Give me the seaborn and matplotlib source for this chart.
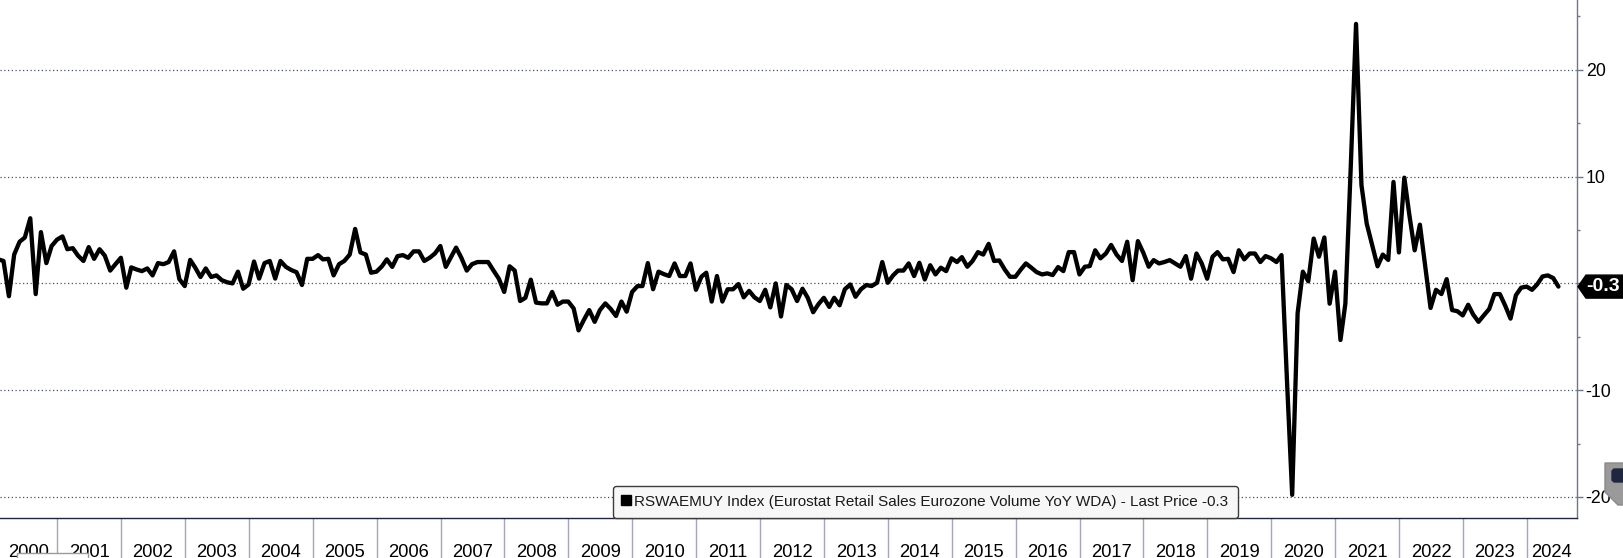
import numpy as np
import pandas as pd
import matplotlib
matplotlib.use("Agg")
import matplotlib.pyplot as plt
import matplotlib.dates as mdates
import matplotlib.transforms as mtrans
from matplotlib.patches import FancyBboxPatch, Polygon, Rectangle
from matplotlib.lines import Line2D
from matplotlib.ticker import FixedLocator, MultipleLocator, FuncFormatter
import seaborn as sns

# ---------------- data (monthly YoY %, Jan 2000 .. Jun 2024) ----------------
first_month = "2000-01-01"
yoy_2000_2004 = [2.25, 2.1, -1.2, 2.7, 3.9, 4.3, 6.1, -1.0, 4.8, 1.9, 3.5, 4.1,
                 4.4, 3.2, 3.3, 2.6, 2.1, 3.4, 2.3, 3.2, 2.6, 1.2, 1.8, 2.4,
                 -0.4, 1.5, 1.3, 1.15, 1.4, 0.75, 1.9, 1.8, 2.0, 3.0, 0.4, -0.25,
                 2.2, 1.5, 0.6, 1.4, 0.6, 0.75, 0.3, 0.1, 0.0, 1.1, -0.5, -0.1,
                 2.05, 0.45, 1.9, 2.1, 0.45, 2.1, 1.55, 1.25, 1.05, -0.15, 2.3, 2.3]
yoy_2005_2009 = [2.65, 2.25, 2.3, 0.75, 1.8, 2.1, 2.7, 5.1, 2.9, 2.7, 1.0, 1.1,
                 1.6, 2.25, 1.55, 2.55, 2.65, 2.4, 3.0, 3.0, 2.1, 2.4, 2.8, 3.5,
                 1.55, 2.4, 3.35, 2.4, 1.2, 1.8, 2.0, 2.0, 2.0, 1.2, 0.45, -0.8,
                 1.6, 1.2, -1.65, -1.35, 0.35, -1.8, -1.87, -1.87, -0.8, -2.0, -1.7, -1.7,
                 -2.35, -4.4, -3.4, -2.5, -3.6, -2.5, -1.87, -2.4, -3.05, -1.7, -2.65, -0.8]
yoy_2010_2014 = [-0.25, -0.25, 1.9, -0.55, 1.1, 0.87, 0.69, 1.87, 0.69, 0.69, 1.87, -0.6,
                 0.62, 1.0, -1.7, 0.69, -1.7, -0.55, -0.55, -0.06, -1.3, -0.7, -1.3, -1.65,
                 -0.6, -2.25, 0.0, -3.1, -0.15, -0.55, -1.65, -0.5, -1.35, -2.7, -1.95, -1.35,
                 -2.2, -1.35, -2.05, -0.55, -0.1, -1.25, -0.55, -0.15, -0.25, 0.06, 2.0, 0.06,
                 0.75, 1.2, 1.2, 1.87, 0.69, 1.93, 0.37, 1.7, 0.84, 1.47, 1.15, 2.35]
yoy_2015_2019 = [2.0, 2.46, 1.56, 2.1, 2.93, 2.7, 3.7, 2.1, 2.15, 1.3, 0.62, 0.62,
                 1.3, 1.87, 1.47, 1.06, 0.84, 0.94, 0.78, 1.53, 1.15, 2.93, 2.93, 0.84,
                 1.56, 1.62, 3.1, 2.35, 2.8, 3.6, 2.7, 2.1, 3.9, 0.3, 3.96, 2.87,
                 1.56, 2.18, 1.87, 2.0, 2.18, 1.87, 1.56, 2.56, 0.44, 2.8, 1.87, 0.44,
                 2.5, 2.93, 2.25, 2.3, 1.06, 3.1, 2.25, 2.8, 2.8, 2.0, 2.56, 2.35]
yoy_2020_2024 = [2.0, 2.65, -9.0, -19.8, -2.8, 1.1, 0.2, 4.2, 2.5, 4.3, -1.9, 1.1,
                 -5.3, -1.9, 11.0, 24.3, 9.2, 5.6, 3.6, 1.6, 2.7, 2.2, 9.5, 2.9,
                 9.9, 6.5, 3.1, 5.5, 1.5, -2.3, -0.6, -1.0, 0.4, -2.5, -2.6, -3.0,
                 -2.0, -2.9, -3.6, -3.0, -2.4, -1.0, -1.0, -2.1, -3.3, -1.1, -0.4, -0.3,
                 -0.6, -0.1, 0.65, 0.75, 0.5, -0.3]
years = list(range(2000, 2025))
y_ticks = [-20, -10, 0, 10, 20]
series_label = "RSWAEMUY Index (Eurostat Retail Sales Eurozone Volume YoY WDA) - Last Price"

values = yoy_2000_2004 + yoy_2005_2009 + yoy_2010_2014 + yoy_2015_2019 + yoy_2020_2024
dates = pd.date_range(first_month, periods=len(values), freq="MS") + pd.offsets.MonthEnd(0)
df = pd.DataFrame({"date": dates, "value": values})
last = values[-1]

# ---------------- style ----------------
sns.set_style("white")
plt.rcParams["font.family"] = ["Liberation Sans", "DejaVu Sans"]
plt.rcParams["axes.unicode_minus"] = False

W, H = 1624, 558
fig = plt.figure(figsize=(W / 100, H / 100), dpi=100)
ax = fig.add_axes([0, 40 / H, 1577 / W, 518 / H])

sns.lineplot(data=df, x="date", y="value", color="black", lw=3.1, ax=ax,
             legend=False, zorder=5)

xmin = pd.Timestamp("2000-02-09")
xmax = pd.Timestamp("2024-10-14")
ax.set_xlim(xmin, xmax)
ax.set_ylim(-21.97, 26.54)
ax.set_xlabel("")
ax.set_ylabel("")

# spines
for s in ["left", "top"]:
    ax.spines[s].set_visible(False)
ax.spines["right"].set_color("#6f7692")
ax.spines["right"].set_linewidth(1.0)
ax.spines["bottom"].set_color("#1f2640")
ax.spines["bottom"].set_linewidth(1.0)

# y axis on the right
ax.yaxis.tick_right()
ax.yaxis.set_major_locator(FixedLocator(y_ticks))
ax.yaxis.set_minor_locator(MultipleLocator(5))
ax.yaxis.set_major_formatter(FuncFormatter(lambda v, p: "" if abs(v) < 1e-9 else f"{v:.0f}"))
ax.tick_params(axis="y", which="major", length=4.3, width=1, color="#6f7692",
               pad=2, labelsize=12.8, labelcolor="black", right=True, left=False)
ax.tick_params(axis="y", which="minor", length=2.2, width=1, color="#6f7692",
               right=True, left=False)
ax.yaxis.grid(True, which="major", linestyle=(0, (1, 2)), color="#44506a", lw=0.9)
ax.xaxis.grid(False)

# x axis: year dividers as long ticks, labels centred in visible part of each year
jan1 = [pd.Timestamp(f"{y}-01-01") for y in years] + [pd.Timestamp(f"{years[-1] + 1}-01-01")]
ax.xaxis.set_major_locator(FixedLocator(mdates.date2num(jan1)))
ax.xaxis.set_major_formatter(FuncFormatter(lambda v, p: ""))
ax.tick_params(axis="x", which="major", length=40 * 0.72, width=1, color="#a3a6bb",
               direction="out", bottom=True)
blend = mtrans.blended_transform_factory(ax.transData, fig.transFigure)
lo_lim, hi_lim = mdates.date2num(xmin), mdates.date2num(xmax)
for k, y in enumerate(years):
    a = max(mdates.date2num(jan1[k]), lo_lim)
    b = min(mdates.date2num(jan1[k + 1]), hi_lim)
    ax.text((a + b) / 2, 1 - 557 / H, str(y), transform=blend, ha="center",
            va="baseline", fontsize=13.2, color="black", clip_on=False)

# legend box (font size fitted so the text spans ~597 px like the reference)
def make_legend(size):
    handle = Line2D([], [], marker="s", ls="none", color="black", markersize=7.5)
    lg = ax.legend([handle], [f"{series_label} {last:.1f}"], loc="lower left",
                   bbox_to_anchor=(613 / 1577, 0.0), borderaxespad=0.0,
                   prop={"family": ["Liberation Sans Narrow", "Liberation Sans"], "size": size},
                   handlelength=0.55, handletextpad=0.25, borderpad=0.6,
                   frameon=True, fancybox=True, framealpha=1.0)
    lg.get_frame().set_facecolor("#f7f7f7")
    lg.get_frame().set_edgecolor("#3c3c3c")
    lg.get_frame().set_linewidth(1.0)
    lg.set_zorder(10)
    for t in lg.get_texts():
        t.set_color("#1a1a1a")
    return lg

size = 12.0
leg = make_legend(size)
fig.canvas.draw()
renderer = fig.canvas.get_renderer()
tw = leg.get_texts()[0].get_window_extent(renderer).width
size = size * 597.0 / tw
leg.remove()
leg = make_legend(size)

# last-price tag on the right axis
fig.canvas.draw()
ydisp = ax.transData.transform((0, last))[1]
xr = ax.transAxes.transform((1, 0))[0]
hh = 11.5
tag = Polygon([(xr + 1, ydisp), (xr + 9, ydisp + hh), (W + 2, ydisp + hh),
               (W + 2, ydisp - hh), (xr + 9, ydisp - hh)], closed=True,
              transform=mtrans.IdentityTransform(), fc="black", ec="black", zorder=20)
fig.add_artist(tag)
fig.text((xr + 9) / W, ydisp / H, f"{last:.1f}", ha="left", va="center",
         color="white", fontsize=14, fontweight="bold", zorder=21)

# small UI remnants (tooltip corner at bottom-left, widget at right)
fig.add_artist(Rectangle((17, -2), 71, 7, transform=mtrans.IdentityTransform(),
                         fc="white", ec="#9a9a9a", lw=1, zorder=30))
fig.add_artist(Polygon([(1605, H - 463), (W + 2, H - 463), (W + 2, H - 505),
                        (1618, H - 505), (1605, H - 492)], closed=True,
                       transform=mtrans.IdentityTransform(), fc="#9a9a9a",
                       ec="#8a8a8a", zorder=30))
fig.add_artist(FancyBboxPatch((1612, H - 482), 14, 13,
                              boxstyle="round,pad=0,rounding_size=3",
                              transform=mtrans.IdentityTransform(),
                              fc="#1f2640", ec="#1f2640", zorder=31))

fig.savefig("out.png", dpi=100)
